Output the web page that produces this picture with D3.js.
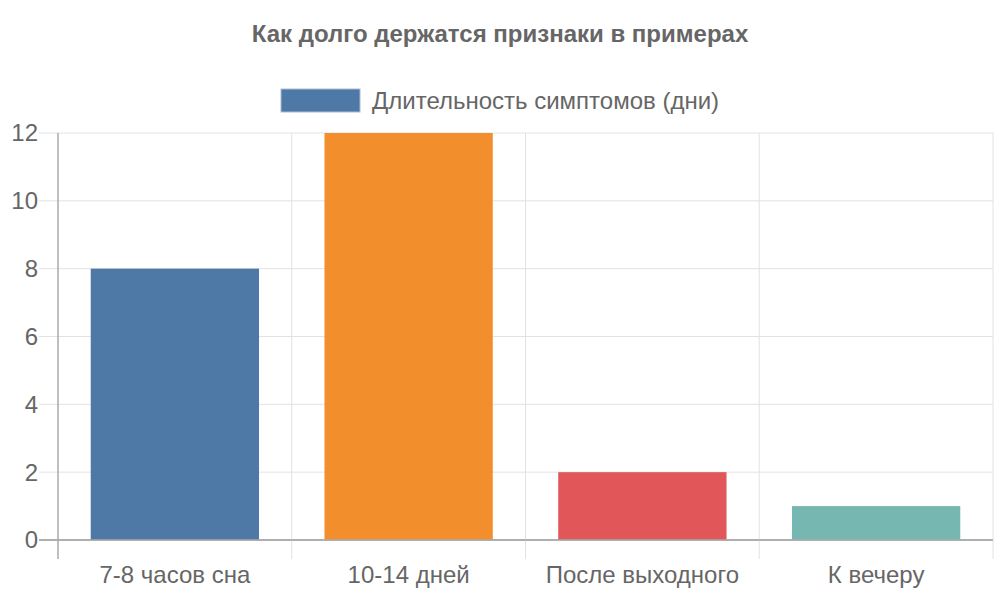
<!DOCTYPE html>
<html>
<head>
<meta charset="utf-8">
<script src="https://cdn.jsdelivr.net/npm/d3@7"></script>
<style>
  body { margin: 0; background: #fff; }
  text { font-family: "Liberation Sans", Arial, sans-serif; fill: #666; }
</style>
</head>
<body>
<script>
var categories = ["7-8 часов сна", "10-14 дней", "После выходного", "К вечеру"];
var values = [8, 12, 2, 1];
var colors = ["#4e79a7", "#f28e2b", "#e15759", "#76b7b2"];
var yTicks = [0, 2, 4, 6, 8, 10, 12];
var seriesName = "Длительность симптомов (дни)";
var title = "Как долго держатся признаки в примерах";

var W = 1000, H = 600;
var margin = {top: 133, right: 7, bottom: 60, left: 58};
var w = W - margin.left - margin.right;
var h = H - margin.top - margin.bottom;

var svg = d3.select("body").append("svg")
    .attr("width", W)
    .attr("height", H);

svg.append("text")
   .attr("x", W / 2)
   .attr("y", 42)
   .attr("text-anchor", "middle")
   .attr("font-size", "24px")
   .attr("font-weight", "bold")
   .text(title);

// legend
var leg = svg.append("g");
leg.append("rect")
   .attr("x", 281).attr("y", 89)
   .attr("width", 79).attr("height", 23)
   .attr("fill", colors[0])
   .attr("stroke", "#a8bdd3").attr("stroke-width", 1);
leg.append("text")
   .attr("x", 372).attr("y", 109)
   .attr("font-size", "24px")
   .text(seriesName);

var g = svg.append("g").attr("transform", "translate(" + margin.left + "," + margin.top + ")");

var x = d3.scaleBand().domain(categories).range([0, w]).paddingInner(0).paddingOuter(0);
var y = d3.scaleLinear().domain([0, 12]).range([h, 0]);

// horizontal grid
g.selectAll(".hgrid")
 .data(yTicks)
 .enter().append("line")
 .attr("x1", -19).attr("x2", w)
 .attr("y1", function(d) { return y(d); })
 .attr("y2", function(d) { return y(d); })
 .attr("stroke", function(d) { return d === 0 ? "#aaa" : "#e2e2e2"; })
 .attr("stroke-width", function(d) { return d === 0 ? 1.5 : 1; });

// vertical grid at category boundaries
var bounds = categories.map(function(c) { return x(c); }).concat([w]);
g.selectAll(".vgrid")
 .data(bounds)
 .enter().append("line")
 .attr("x1", function(d) { return d; })
 .attr("x2", function(d) { return d; })
 .attr("y1", 0).attr("y2", h + 19)
 .attr("stroke", function(d, i) { return i === 0 ? "#aaa" : "#e2e2e2"; })
 .attr("stroke-width", function(d, i) { return i === 0 ? 1.5 : 1; });

// bars
var bw = x.bandwidth() * 0.72;
g.selectAll(".bar")
 .data(values)
 .enter().append("rect")
 .attr("x", function(d, i) { return x(categories[i]) + (x.bandwidth() - bw) / 2; })
 .attr("y", function(d) { return y(d); })
 .attr("width", bw)
 .attr("height", function(d) { return h - y(d); })
 .attr("fill", function(d, i) { return colors[i]; });

// redraw zero line on top
g.append("line")
 .attr("x1", -19).attr("x2", w)
 .attr("y1", y(0)).attr("y2", y(0))
 .attr("stroke", "#aaa").attr("stroke-width", 1.5);

// y labels
g.selectAll(".ylab")
 .data(yTicks)
 .enter().append("text")
 .attr("x", -20)
 .attr("y", function(d) { return y(d); })
 .attr("dy", "0.35em")
 .attr("text-anchor", "end")
 .attr("font-size", "24px")
 .text(function(d) { return d; });

// x labels
g.selectAll(".xlab")
 .data(categories)
 .enter().append("text")
 .attr("x", function(d) { return x(d) + x.bandwidth() / 2; })
 .attr("y", h + 43)
 .attr("text-anchor", "middle")
 .attr("font-size", "24px")
 .text(function(d) { return d; });
</script>
</body>
</html>
